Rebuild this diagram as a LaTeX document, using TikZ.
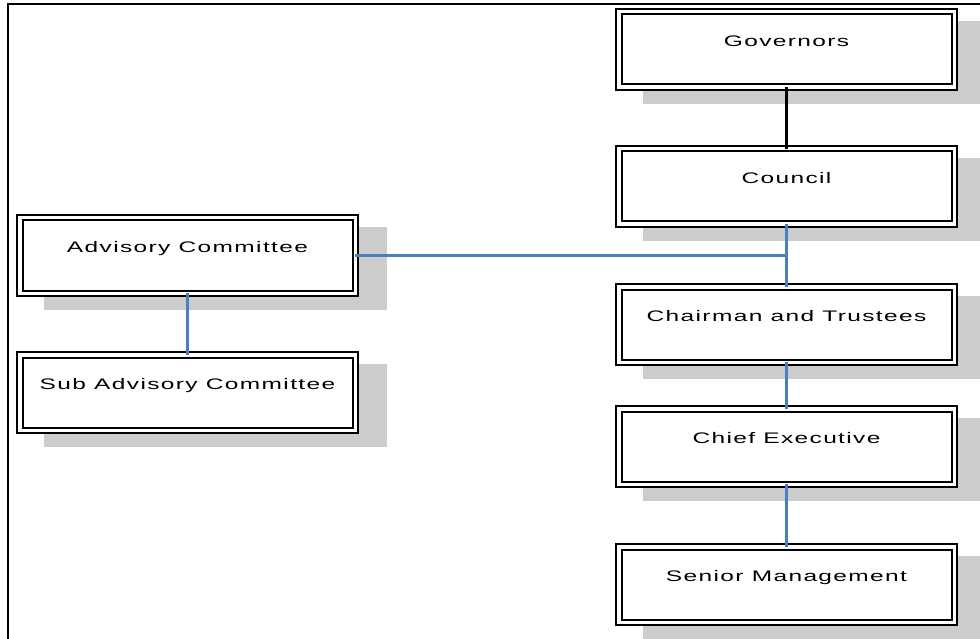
\documentclass[tikz,border=0pt]{standalone}
\usepackage{fontspec}
\usetikzlibrary{calc}
\newfontfamily\boxfont[FakeStretch=1.6,LetterSpace=9]{Liberation Sans}
\definecolor{shadowgray}{RGB}{204,204,204}
\definecolor{linkblue}{RGB}{74,126,193}
\tikzset{
  orgbox/.style={draw=black, line width=2pt, double=white, double distance=3.5pt,
    fill=white, minimum width=335.5pt, minimum height=75.5pt, inner sep=0pt, outer sep=0pt},
  boxlabel/.style={anchor=base, inner sep=0pt, font=\boxfont\fontsize{15.3}{17}\selectfont},
  boxshadow/.style={fill=shadowgray},
  bluelink/.style={draw=linkblue, line width=2.2pt},
  blacklink/.style={draw=black, line width=2.2pt},
  frameline/.style={draw=black, line width=1.6pt}
}
\newcommand\orgunit[3]{%
  \fill[boxshadow] ($(#2)+(28-171.5,13-41.5)$) rectangle ++(343,83);
  \node[orgbox] (#1) at (#2) {};
  \node[boxlabel] (#1-t) at ([yshift=3pt]#1.center) {#3};
}
\begin{document}
\begin{tikzpicture}[x=1pt,y=-1pt]
\useasboundingbox (0,0) rectangle (980,639);
\clip (0,0) rectangle (980,639);
\fill[white] (0,0) rectangle (980,639);
\coordinate (fb) at (8,639);
\coordinate (fc) at (8,4);
\coordinate (fr) at (980,4);
\draw[frameline] (fb) -- (fc) -- (fr);

\orgunit{gov}{786.5,49.5}{Governors}
\orgunit{council}{786.5,186.5}{Council}
\orgunit{chair}{786.5,324.5}{Chairman and Trustees}
\orgunit{chief}{786.5,446.5}{Chief Executive}
\orgunit{senior}{786.5,584.5}{Senior Management}
\orgunit{adv}{187.5,255.5}{Advisory Committee}
\orgunit{sub}{187.5,392.5}{Sub Advisory Committee}

\draw[blacklink] (gov.south) -- (council.north);
\draw[bluelink] (council.south) -- (chair.north);
\draw[bluelink] (adv.east) -- (adv.east -| council.south);
\draw[bluelink] (chair.south) -- (chief.north);
\draw[bluelink] (chief.south) -- (senior.north);
\draw[bluelink] (adv.south) -- (sub.north);
\end{tikzpicture}
\end{document}
